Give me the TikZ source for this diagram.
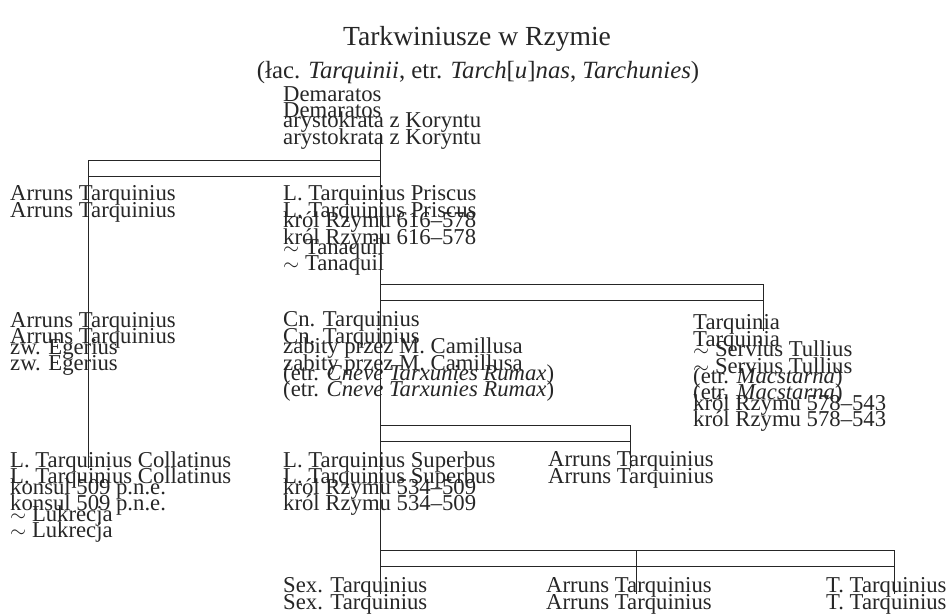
\documentclass[tikz,border=0pt]{standalone}
\usepackage{fontspec}
\setmainfont{Liberation Serif}

\tikzset{
    person/.style={anchor=north west, align=left, inner sep=0pt, text=black!85,
        font=\fontsize{22.7}{26.8}\selectfont},
    conn/.style={black!85, line width=1pt},
    headline/.style={anchor=base, inner sep=0pt, text=black!85}
}

% one pass of the tree, drawn twice below
\newcommand{\tarqtree}{
    \node[person] (dem) at (283,86) {Demaratos\\arystokrata z Koryntu};
    \node[person] (arr1) at (10,185.5) {Arruns Tarquinius};
    \node[person] (pri) at (283,185.5) {L. Tarquinius Priscus\\król Rzymu 616–578\\$\sim$ Tanaquil};
    \node[person] (arr2) at (10,312) {Arruns Tarquinius\\zw. Egerius};
    \node[person] (cn) at (283,311.5) {Cn. Tarquinius\\zabity przez M. Camillusa\\(etr. \textit{Cneve Tarxunies Rumax})};
    \node[person] (tqa) at (693,314.5) {Tarquinia\\$\sim$ Servius Tullius\\(etr. \textit{Macstarna})\\król Rzymu 578–543};
    \node[person] (col) at (10,451.5) {L. Tarquinius Collatinus\\konsul 509 p.n.e.\\$\sim$ Lukrecja};
    \node[person] (sup) at (283,451.5) {L. Tarquinius Superbus\\król Rzymu 534–509};
    \node[person] (arr3) at (548,451.5) {Arruns Tarquinius};
    \node[person] (sex) at (283,577.5) {Sex. Tarquinius};
    \node[person] (arr4) at (546,577.5) {Arruns Tarquinius};
    \node[person] (ttq) at (826,577.5) {T. Tarquinius};
    \coordinate (b1l) at (88,160);
    \coordinate (b1r) at (380,160);
    \coordinate (b2r) at (763,284);
    \coordinate (b3r) at (630,425);
    \coordinate (b4m) at (636,550);
    \coordinate (b4r) at (894,550);
    \draw[conn] (b1l) -- (b1r);
    \draw[conn] (dem.south -| b1r) -- (sex.north -| b1r);
    \draw[conn] (b1l) -- (col.north -| b1l);
    \draw[conn] (b2r -| b1r) -- (b2r) -- (tqa.north -| b2r);
    \draw[conn] (b3r -| b1r) -- (b3r) -- (arr3.north -| b3r);
    \draw[conn] (b4r -| b1r) -- (b4r) -- (ttq.north -| b4r);
    \draw[conn] (b4m) -- (arr4.north -| b4m);
}

\begin{document}
\begin{tikzpicture}[x=1pt, y=-1pt]
    \useasboundingbox (0,0) rectangle (949,615);
    \node[headline, font=\fontsize{27.6}{30}\selectfont] (title) at (477,46) {Tarkwiniusze w Rzymie};
    \node[headline, font=\fontsize{24.8}{30}\selectfont] (subtitle) at (478,79) {(łac. \textit{Tarquinii}, etr. \textit{Tarch}[\textit{u}]\textit{nas}, \textit{Tarchunies})};
    \foreach \dy in {0,16.5} {
        \begin{scope}[yshift=-\dy pt]
            \tarqtree
        \end{scope}
    }
\end{tikzpicture}
\end{document}
